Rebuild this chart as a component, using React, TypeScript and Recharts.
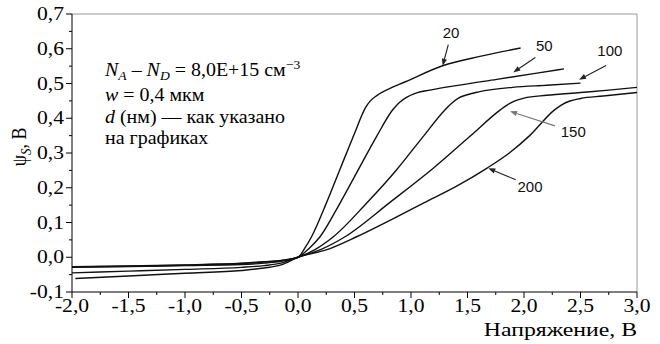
import React from 'react';
import { LineChart, Line, XAxis, YAxis, ReferenceLine, ReferenceDot } from 'recharts';

// Напряжение (V) vs ψS (V) for d = 20, 50, 100, 150, 200 нм
const d20 = [
  { v: -2.0, p: -0.027 }, { v: -1.5, p: -0.025 }, { v: -1.0, p: -0.022 }, { v: -0.5, p: -0.017 },
  { v: -0.3, p: -0.013 }, { v: -0.15, p: -0.009 }, { v: 0, p: 0 }, { v: 0.06, p: 0.026 },
  { v: 0.12, p: 0.059 }, { v: 0.25, p: 0.155 }, { v: 0.37, p: 0.252 }, { v: 0.49, p: 0.348 },
  { v: 0.6, p: 0.432 }, { v: 0.64, p: 0.45 }, { v: 0.7, p: 0.466 }, { v: 0.8, p: 0.484 },
  { v: 0.95, p: 0.505 }, { v: 1.28, p: 0.551 }, { v: 1.61, p: 0.578 }, { v: 1.97, p: 0.602 },
];
const d50 = [
  { v: -2.0, p: -0.028 }, { v: -1.5, p: -0.026 }, { v: -1.0, p: -0.023 }, { v: -0.5, p: -0.018 },
  { v: -0.3, p: -0.014 }, { v: -0.15, p: -0.01 }, { v: 0, p: 0 }, { v: 0.1, p: 0.026 },
  { v: 0.195, p: 0.059 }, { v: 0.372, p: 0.156 }, { v: 0.534, p: 0.252 }, { v: 0.696, p: 0.348 },
  { v: 0.84, p: 0.425 }, { v: 0.9, p: 0.446 }, { v: 0.96, p: 0.46 }, { v: 1.05, p: 0.473 },
  { v: 1.168, p: 0.481 }, { v: 1.4, p: 0.494 }, { v: 1.76, p: 0.512 }, { v: 2.1, p: 0.529 },
  { v: 2.354, p: 0.542 },
];
const d100 = [
  { v: -2.0, p: -0.029 }, { v: -1.5, p: -0.027 }, { v: -1.0, p: -0.024 }, { v: -0.5, p: -0.021 },
  { v: -0.3, p: -0.017 }, { v: -0.15, p: -0.012 }, { v: 0, p: 0 }, { v: 0.15, p: 0.022 },
  { v: 0.313, p: 0.059 }, { v: 0.608, p: 0.156 }, { v: 0.873, p: 0.252 }, { v: 1.109, p: 0.348 },
  { v: 1.3, p: 0.424 }, { v: 1.36, p: 0.443 }, { v: 1.42, p: 0.458 }, { v: 1.49, p: 0.467 },
  { v: 1.6, p: 0.476 }, { v: 1.9, p: 0.489 }, { v: 2.2, p: 0.495 }, { v: 2.5, p: 0.501 },
];
const d150 = [
  { v: -2.0, p: -0.045 }, { v: -1.5, p: -0.04 }, { v: -1.0, p: -0.035 }, { v: -0.5, p: -0.029 },
  { v: -0.3, p: -0.024 }, { v: -0.15, p: -0.017 }, { v: 0, p: 0 }, { v: 0.2, p: 0.022 },
  { v: 0.416, p: 0.059 }, { v: 0.814, p: 0.158 }, { v: 1.197, p: 0.256 }, { v: 1.522, p: 0.348 },
  { v: 1.79, p: 0.424 }, { v: 1.85, p: 0.438 }, { v: 1.92, p: 0.45 }, { v: 2.0, p: 0.458 },
  { v: 2.2, p: 0.466 }, { v: 2.5, p: 0.474 }, { v: 2.75, p: 0.481 }, { v: 3.0, p: 0.489 },
];
const d200 = [
  { v: -1.97, p: -0.061 }, { v: -1.5, p: -0.054 }, { v: -1.0, p: -0.046 }, { v: -0.5, p: -0.038 },
  { v: -0.3, p: -0.031 }, { v: -0.15, p: -0.022 }, { v: 0, p: 0 }, { v: 0.25, p: 0.021 },
  { v: 0.519, p: 0.059 }, { v: 0.8, p: 0.104 }, { v: 1.109, p: 0.156 }, { v: 1.4, p: 0.204 },
  { v: 1.67, p: 0.256 }, { v: 1.87, p: 0.3 }, { v: 2.05, p: 0.35 }, { v: 2.27, p: 0.424 },
  { v: 2.33, p: 0.438 }, { v: 2.4, p: 0.449 }, { v: 2.5, p: 0.457 }, { v: 2.7, p: 0.464 },
  { v: 3.0, p: 0.474 },
];

const SERIES = [
  { name: '20', data: d20 },
  { name: '50', data: d50 },
  { name: '100', data: d100 },
  { name: '150', data: d150 },
  { name: '200', data: d200 },
];

const X_TICKS = [-2, -1.75, -1.5, -1.25, -1, -0.75, -0.5, -0.25, 0, 0.25, 0.5, 0.75, 1, 1.25, 1.5, 1.75, 2, 2.25, 2.5, 2.75, 3];
const Y_TICKS = [-0.1, -0.05, 0, 0.05, 0.1, 0.15, 0.2, 0.25, 0.3, 0.35, 0.4, 0.45, 0.5, 0.55, 0.6, 0.65, 0.7];

// curve labels with arrows (data coordinates)
const ANNOTATIONS = [
  { label: '20', from: { x: 1.33, y: 0.612 }, to: { x: 1.28, y: 0.551 }, at: { x: 1.354, y: 0.646 }, color: '#222' },
  { label: '50', from: { x: 2.1, y: 0.575 }, to: { x: 1.905, y: 0.532 }, at: { x: 2.18, y: 0.61 }, color: '#222' },
  { label: '100', from: { x: 2.726, y: 0.552 }, to: { x: 2.487, y: 0.511 }, at: { x: 2.76, y: 0.595 }, color: '#222' },
  { label: '150', from: { x: 2.274, y: 0.378 }, to: { x: 1.876, y: 0.42 }, at: { x: 2.436, y: 0.362 }, color: '#777' },
  { label: '200', from: { x: 1.927, y: 0.223 }, to: { x: 1.684, y: 0.256 }, at: { x: 2.053, y: 0.202 }, color: '#222' },
];

const NOTE_ANCHOR = { x: -1.708, y: 0.5225 };

const SERIF = '"Liberation Serif", "Times New Roman", serif';
const SANS = '"Liberation Sans", Arial, sans-serif';

const fmt = (v: number) => v.toFixed(1).replace('.', ',');

function XTick(props: any) {
  const { x, y, payload } = props;
  const v = payload.value;
  const major = Math.abs(v * 2 - Math.round(v * 2)) < 1e-6;
  return (
    <g>
      <line x1={x} x2={x} y1={y} y2={y + (major ? 6 : 3)} stroke="#000" strokeWidth={1} />
      {major && (
        <text transform={`translate(${x},${y + 20}) scale(1.2,1)`} textAnchor="middle" fontFamily={SERIF} fontSize={18} fill="#000">
          {fmt(v)}
        </text>
      )}
    </g>
  );
}

function YTick(props: any) {
  const { x, y, payload } = props;
  const v = payload.value;
  const major = Math.abs(v * 10 - Math.round(v * 10)) < 1e-6;
  return (
    <g>
      <line x1={x - (major ? 6 : 3)} x2={x} y1={y} y2={y} stroke="#000" strokeWidth={1} />
      {major && (
        <text transform={`translate(${x - 8},${y + 6}) scale(1.2,1)`} textAnchor="end" fontFamily={SERIF} fontSize={18} fill="#000">
          {fmt(v)}
        </text>
      )}
    </g>
  );
}

function YTitle() {
  const cx = 26;
  const cy = 147;
  return (
    <text transform={`translate(${cx},${cy}) rotate(-90) scale(1,1.15)`} textAnchor="middle" fontFamily={SERIF} fontSize={18} fill="#000">
      ψ
      <tspan dy={4} fontSize={13} fontStyle="italic">S</tspan>
      <tspan dy={-4}>, В</tspan>
    </text>
  );
}

function XTitle(props: any) {
  const vb = props.viewBox || { x: 72, width: 565 };
  return (
    <text transform={`translate(${vb.x + vb.width},336) scale(1.25,1)`} textAnchor="end" fontFamily={SERIF} fontSize={19} fill="#000">
      Напряжение, В
    </text>
  );
}

const makeArrow = (color: string) => (props: any) => {
  const { x1, y1, x2, y2 } = props;
  const ang = Math.atan2(y2 - y1, x2 - x1);
  const L = 7;
  const W = 2.6;
  const bx = x2 - L * Math.cos(ang);
  const by = y2 - L * Math.sin(ang);
  const px = -Math.sin(ang) * W;
  const py = Math.cos(ang) * W;
  return (
    <g>
      <line x1={x1} y1={y1} x2={bx} y2={by} stroke={color} strokeWidth={1.1} />
      <polygon points={`${x2},${y2} ${bx + px},${by + py} ${bx - px},${by - py}`} fill={color} />
    </g>
  );
};

const makeLabel = (text: string) => (props: any) => (
  <text x={props.cx} y={props.cy} dy="0.36em" textAnchor="middle" fontFamily={SANS} fontSize={15} fill="#111">
    {text}
  </text>
);

const NoteShape = (props: any) => {
  const { cx, cy } = props;
  const t = (dy: number) => `translate(${cx},${cy + dy}) scale(1.05,1)`;
  return (
    <g fontFamily={SERIF} fontSize={19} fill="#000">
      <text transform={t(0)}>
        <tspan fontStyle="italic">N</tspan>
        <tspan fontStyle="italic" fontSize={13} dy={4}>A</tspan>
        <tspan dy={-4}> – </tspan>
        <tspan fontStyle="italic">N</tspan>
        <tspan fontStyle="italic" fontSize={13} dy={4}>D</tspan>
        <tspan dy={-4}> = 8,0E+15 см</tspan>
        <tspan fontSize={13} dy={-7}>−3</tspan>
      </text>
      <text transform={t(25)}>
        <tspan fontStyle="italic">w</tspan> = 0,4 мкм
      </text>
      <text transform={t(47)}>
        <tspan fontStyle="italic">d</tspan> (нм) — как указано
      </text>
      <text transform={t(68)}>на графиках</text>
    </g>
  );
};

export default function App() {
  return (
    <div style={{ position: 'absolute', left: 0, top: 0, background: '#fff' }}>
      <LineChart width={660} height={344} margin={{ top: 14, right: 23, left: 0, bottom: 0 }}>
        <XAxis
          dataKey="v"
          type="number"
          domain={[-2, 3]}
          ticks={X_TICKS}
          interval={0}
          allowDataOverflow
          height={52}
          tickSize={0}
          tickMargin={0}
          tickLine={false}
          tick={<XTick />}
          axisLine={{ stroke: '#000', strokeWidth: 1 }}
          label={<XTitle />}
        />
        <YAxis
          type="number"
          domain={[-0.1, 0.7]}
          ticks={Y_TICKS}
          interval={0}
          allowDataOverflow
          width={72}
          tickSize={0}
          tickMargin={0}
          tickLine={false}
          tick={<YTick />}
          axisLine={{ stroke: '#000', strokeWidth: 1 }}
          label={<YTitle />}
        />
        <ReferenceLine y={0.7} stroke="#999" strokeWidth={1} />
        <ReferenceLine x={3} stroke="#999" strokeWidth={1} />
        {SERIES.map((s) => (
          <Line
            key={s.name}
            data={s.data}
            dataKey="p"
            type="monotone"
            dot={false}
            activeDot={false}
            stroke="#111"
            strokeWidth={1.4}
            isAnimationActive={false}
          />
        ))}
        {ANNOTATIONS.map((a) => (
          <ReferenceLine key={'arr' + a.label} segment={[a.from, a.to]} shape={makeArrow(a.color)} />
        ))}
        {ANNOTATIONS.map((a) => (
          <ReferenceDot key={'lab' + a.label} x={a.at.x} y={a.at.y} r={1} shape={makeLabel(a.label)} />
        ))}
        <ReferenceDot x={NOTE_ANCHOR.x} y={NOTE_ANCHOR.y} r={1} shape={NoteShape} />
      </LineChart>
    </div>
  );
}
